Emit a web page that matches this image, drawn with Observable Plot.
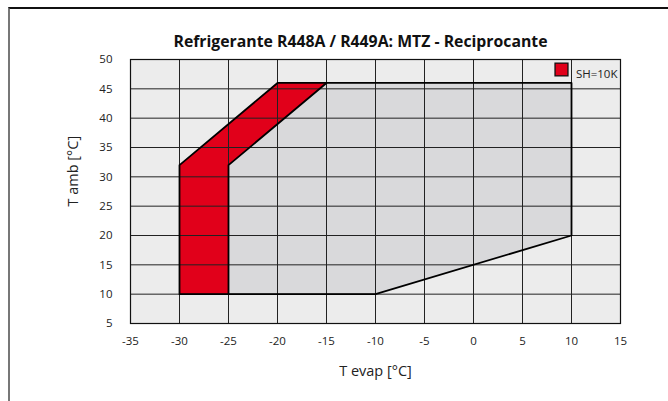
<!DOCTYPE html>
<html>
<head>
<meta charset="utf-8">
<script src="https://cdn.jsdelivr.net/npm/d3@7"></script>
<script src="https://cdn.jsdelivr.net/npm/@observablehq/plot@0.6"></script>
<style>
  html, body { margin: 0; padding: 0; background: #fff; }
  #wrap { position: relative; width: 668px; height: 401px; }
  #frame { position: absolute; left: 8px; top: 7px; right: 0; bottom: 0;
           border-top: 2px solid #111; border-left: 2px solid #777; pointer-events: none; }
  svg { display: block; }
</style>
</head>
<body>
<div id="wrap"><div id="frame"></div></div>
<script>
const chartTitle = "Refrigerante R448A / R449A: MTZ - Reciprocante";
const xLabel = "T evap [°C]";
const yLabel = "T amb [°C]";
const xTicks = [-35, -30, -25, -20, -15, -10, -5, 0, 5, 10, 15];
const yTicks = [5, 10, 15, 20, 25, 30, 35, 40, 45, 50];

// Operating envelope (outer boundary)
const envEvap = [-30, -10, 10, 10, -20, -30, -30];
const envAmb  = [10, 10, 20, 46, 46, 32, 10];
// SH=10K zone (red)
const shEvap = [-30, -25, -25, -15, -20, -30];
const shAmb  = [10, 10, 32, 46, 46, 32];
// inner edge of red zone
const edgeEvap = [-25, -25, -15];
const edgeAmb  = [10, 32, 46];
const legendLabel = ["SH=10K"];

const envelope = envEvap.map((x, i) => ({x, y: envAmb[i]}));
const shZone = shEvap.map((x, i) => ({x, y: shAmb[i]}));
const edge = edgeEvap.map((x, i) => ({x, y: edgeAmb[i]}));

const font = "'Open Sans', 'DejaVu Sans', sans-serif";
const fmt = d => String(d);

const chart = Plot.plot({
  width: 668,
  height: 401,
  marginLeft: 130,
  marginRight: 48,
  marginTop: 59,
  marginBottom: 78,
  style: {fontFamily: font, fontSize: "11px", color: "#222", background: "transparent"},
  x: {domain: [-35, 15], ticks: xTicks, tickSize: 0, tickPadding: 13, label: null, tickFormat: fmt},
  y: {domain: [5, 50], ticks: yTicks, tickSize: 0, tickPadding: 18, label: null, tickFormat: fmt},
  marks: [
    Plot.frame({fill: "#ececec", stroke: null}),
    Plot.line(envelope, {x: "x", y: "y", fill: "#d9d9db", stroke: null}),
    Plot.line(shZone, {x: "x", y: "y", fill: "#e1001a", stroke: null}),
    Plot.ruleX(xTicks, {stroke: "#222", strokeWidth: 1, strokeOpacity: 1}),
    Plot.ruleY(yTicks, {stroke: "#222", strokeWidth: 1, strokeOpacity: 1}),
    Plot.line(envelope, {x: "x", y: "y", stroke: "#000", strokeWidth: 1.8}),
    Plot.line(edge, {x: "x", y: "y", stroke: "#000", strokeWidth: 1.8}),
    Plot.frame({stroke: "#111", strokeWidth: 1.2}),
    Plot.axisX({ticks: xTicks, tickSize: 0, tickPadding: 13, label: null, fontSize: 11.5, tickFormat: fmt}),
    Plot.axisY({ticks: yTicks, tickSize: 0, tickPadding: 18, label: null, fontSize: 11.5, tickFormat: fmt}),
    Plot.dot(legendLabel, {frameAnchor: "top-right", dx: -59, dy: 10, symbol: "square", r: 7.3, fill: "#e1001a", stroke: "#111", strokeWidth: 1.3}),
    Plot.text(legendLabel, {frameAnchor: "top-right", dx: -3, dy: 10, text: d => d, textAnchor: "end", fontSize: 11.5, fill: "#222"}),
    Plot.text([chartTitle], {frameAnchor: "top", dx: -15, dy: -24, text: d => d, fontSize: 15.8, fontWeight: "bold", fill: "#111"}),
    Plot.text([xLabel], {frameAnchor: "bottom", dy: 52, text: d => d, fontSize: 14.5, fill: "#222"}),
    Plot.text([yLabel], {frameAnchor: "left", dx: -57, dy: 15, rotate: -90, text: d => d, fontSize: 14.5, fill: "#222"})
  ]
});
document.getElementById("wrap").prepend(chart);
</script>
</body>
</html>
